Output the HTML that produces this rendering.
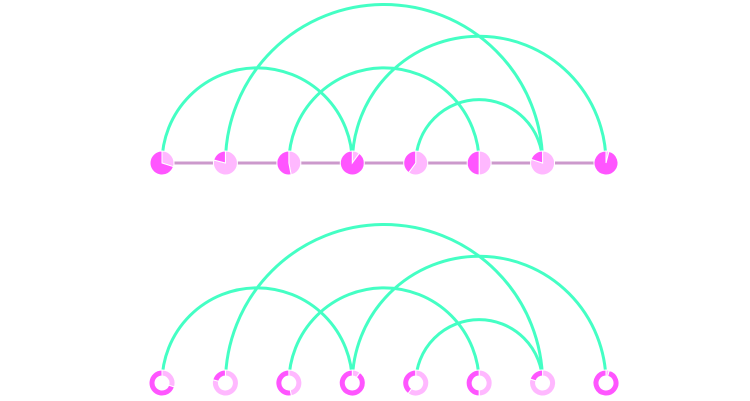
<!DOCTYPE html>
<html><head><meta charset="utf-8"><style>html,body{margin:0;background:#fff}svg{display:block}</style></head>
<body>
<svg id="c" width="750" height="401"></svg>
<script>
const nodes=[0,1,2,3,4,5,6,7];
const lightFrac=[0.30,0.79,0.47,0.10,0.60,0.50,0.80,0.04];
const links=[[0,3],[1,6],[2,5],[3,7],[4,6]];
const seq=[[0,1],[1,2],[2,3],[3,4],[4,5],[5,6],[6,7]];
const NS="http://www.w3.org/2000/svg";
const svg=document.getElementById('c');
const xs=i=>162+i*63.43;
const rows=[{y:163,donut:false},{y:383,donut:true}];
function mk(t,a,p){const e=document.createElementNS(NS,t);for(const k in a)e.setAttribute(k,a[k]);(p||svg).appendChild(e);return e;}
function pt(cx,cy,r,f){const a=f*2*Math.PI;return [cx+r*Math.sin(a),cy-r*Math.cos(a)];}
function slice(cx,cy,r0,r1,f0,f1){
  const L=(f1-f0)>0.5?1:0;
  const [a,b]=pt(cx,cy,r1,f0),[c,d]=pt(cx,cy,r1,f1);
  if(r0===0)return `M${cx},${cy}L${a},${b}A${r1},${r1} 0 ${L} 1 ${c},${d}Z`;
  const [e,f]=pt(cx,cy,r0,f1),[g,h]=pt(cx,cy,r0,f0);
  return `M${a},${b}A${r1},${r1} 0 ${L} 1 ${c},${d}L${e},${f}A${r0},${r0} 0 ${L} 0 ${g},${h}Z`;
}
rows.forEach((row,ri)=>{
  const g=mk('g',{});
  
  
  if(!row.donut){
    seq.forEach(s=>{
      const l=mk('line',{x1:xs(s[0]),y1:row.y,x2:xs(s[1]),y2:row.y,stroke:'#cc99cc','stroke-width':3},g);
      
      
    });
  }
  links.forEach(k=>{
    const x1=xs(k[0]),x2=xs(k[1]),r=(x2-x1)/2;
    const p=mk('path',{d:`M${x1},${row.y}A${r},${r} 0 0 1 ${x2},${row.y}`,fill:'none',stroke:'#44ffc4','stroke-width':3},g);
    
    
  });
  nodes.forEach(i=>{
    const cx=xs(i),f=lightFrac[i],r0=row.donut?7:0,r1=row.donut?13:12;
    if(row.donut){
      const w=mk('circle',{cx:cx,cy:row.y,r:r1,fill:'#fff'},g);
      
      
    }
    const a=mk('path',{d:slice(cx,row.y,r0,r1,0,f),fill:'#ffb8ff',stroke:'#fff','stroke-width':1},g);
    
    
    const b=mk('path',{d:slice(cx,row.y,r0,r1,f,1),fill:'#ff55ff',stroke:'#fff','stroke-width':1},g);
    
    
  });
});
</script>
</body></html>
